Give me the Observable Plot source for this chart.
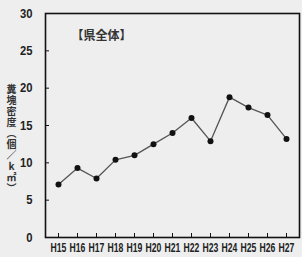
<!DOCTYPE html>
<html>
<head>
<meta charset="utf-8">
<script src="https://cdn.jsdelivr.net/npm/d3@7"></script>
<script src="https://cdn.jsdelivr.net/npm/@observablehq/plot@0.6"></script>
<style>
  html, body { margin: 0; padding: 0; background: #eeeeee; }
  #chart { width: 302px; height: 257px; }
</style>
</head>
<body>
<div id="chart"></div>
<script>
const years = ["H15","H16","H17","H18","H19","H20","H21","H22","H23","H24","H25","H26","H27"];
const density = [7.1, 9.3, 7.9, 10.4, 11.0, 12.5, 14.0, 16.0, 12.9, 18.8, 17.4, 16.4, 13.2];
const yTicks = [0, 5, 10, 15, 20, 25, 30];
const title = "【県全体】";
const yLabelChars = ["糞", "塊", "密", "度", "︵", "個", "／", "k", "㎡", "︶"];

const data = years.map((y, i) => ({year: y, value: density[i]}));

const chart = Plot.plot({
  width: 302,
  height: 257,
  marginLeft: 45,
  marginRight: 3,
  marginTop: 13,
  marginBottom: 20,
  style: {background: "#eeeeee", fontFamily: "'Liberation Sans', Arial, sans-serif"},
  x: {type: "point", domain: years, padding: 0.45, label: null},
  y: {domain: [0, 30], label: null},
  marks: [
    Plot.frame({stroke: "#111", strokeWidth: 1.6}),
    Plot.axisY({ticks: yTicks, tickSize: 0, tickPadding: 13, fontSize: 12.5, fontWeight: "bold", fill: "#222", label: null}),
    Plot.axisX({tickSize: 0, tickPadding: 6, fontSize: 12, fontWeight: "bold", fill: "#222", label: null}),
    Plot.tickY(yTicks, {y: d => d, insetRight: 250, stroke: "#111", strokeWidth: 1}),
    Plot.tickX(years, {x: d => d, insetTop: 220, stroke: "#111", strokeWidth: 1}),
    Plot.line(data, {x: "year", y: "value", stroke: "#555", strokeWidth: 1.3}),
    Plot.dot(data, {x: "year", y: "value", r: 3, fill: "#111", stroke: "none"}),
    Plot.text([title], {frameAnchor: "top-left", dx: 26, dy: 18, text: d => d, fontSize: 12, fontWeight: 600, fill: "#333", fontFamily: "'Noto Sans CJK JP', sans-serif", textAnchor: "start"}),
    Plot.text([yLabelChars.join("\n")], {frameAnchor: "left", dx: -34, dy: 13, text: d => d, fontSize: 10, lineHeight: 1.1, fontWeight: "bold", fill: "#333", fontFamily: "'Noto Sans CJK JP', sans-serif", textAnchor: "middle", lineAnchor: "middle"})
  ]
});

// condense the tick labels like the reference's narrow bold face
function condense(selector, k) {
  d3.select(chart).selectAll(selector).each(function() {
    const t = this.getAttribute("transform");
    if (t) this.setAttribute("transform", t + ` scale(${k},1)`);
  });
}
condense('g[aria-label="x-axis tick label"] text', 0.72);
condense('g[aria-label="y-axis tick label"] text', 0.9);

document.getElementById("chart").appendChild(chart);
</script>
</body>
</html>
